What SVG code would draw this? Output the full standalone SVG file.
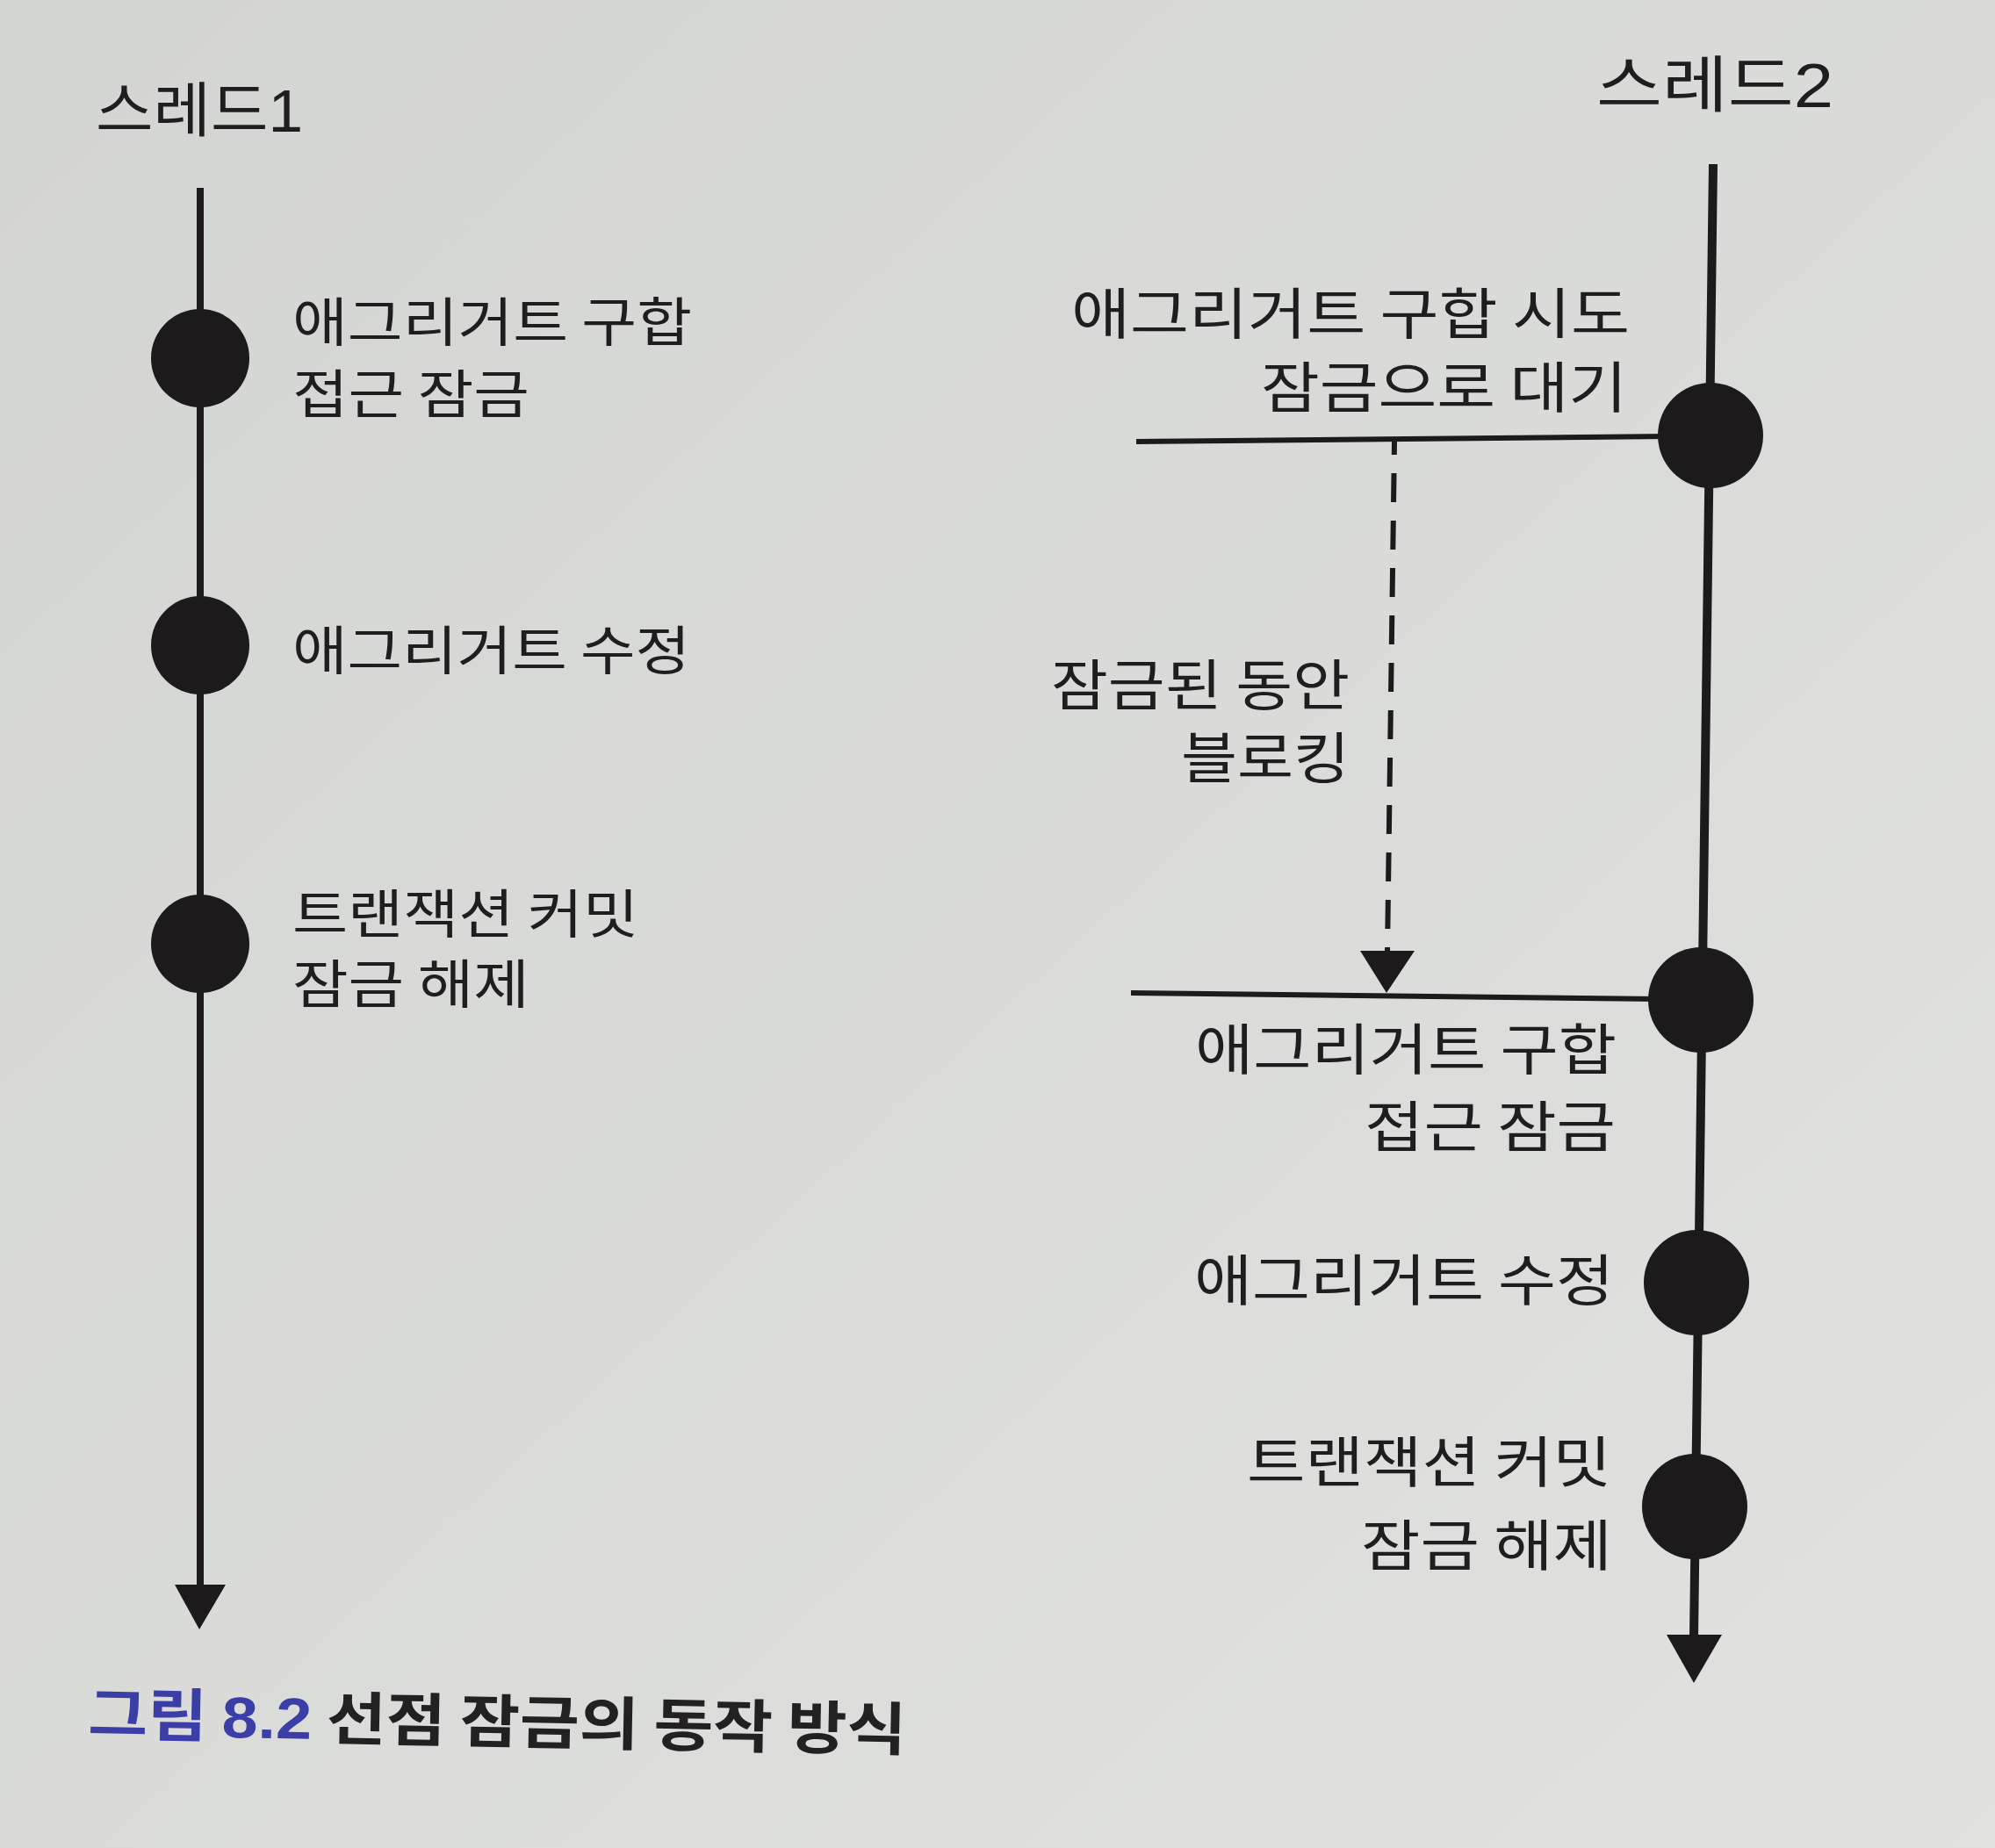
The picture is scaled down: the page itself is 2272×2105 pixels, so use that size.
<svg xmlns="http://www.w3.org/2000/svg" width="2272" height="2105" viewBox="0 0 2272 2105">
  <defs>
    <linearGradient id="paper" x1="0" y1="0" x2="1" y2="1">
      <stop offset="0" stop-color="#d3d5d3"/>
      <stop offset="1" stop-color="#e1e2e0"/>
    </linearGradient>
    <style>
      .t { font-family: "Noto Sans CJK KR", "Noto Sans", sans-serif; fill: #1f1d1d; }
      .l { font-size: 60px; }
      .r { font-size: 63px; text-anchor: end; }
      .h { font-size: 68px; }
      .num { font-family: "Liberation Sans", "Noto Sans", sans-serif; }
      .dot { fill: #1c1a1a; }
      .ln { stroke: #1c1a1a; fill: none; }
      .ah { fill: #1c1a1a; }
      .cap { font-family: "Noto Sans CJK KR", "Noto Sans", sans-serif; font-size: 66px; font-weight: bold; fill: #222020; }
      .capb { fill: #3b3ea6; }
    </style>
  </defs>
  <rect x="0" y="0" width="2272" height="2105" fill="url(#paper)"/>

  <g id="connectors">
    <line class="ln" x1="228" y1="214" x2="228" y2="1810" stroke-width="8"/>
    <polygon class="ah" points="199,1805 257,1805 227,1856"/>
    <line class="ln" x1="1951" y1="187" x2="1929" y2="1866" stroke-width="10"/>
    <polygon class="ah" points="1898,1862 1961,1862 1929,1917"/>
    <line class="ln" x1="1294" y1="503" x2="1900" y2="497" stroke-width="6"/>
    <line class="ln" x1="1288" y1="1131" x2="1890" y2="1138" stroke-width="6"/>
    <line class="ln" x1="1588" y1="503" x2="1580" y2="1085" stroke-width="6" stroke-dasharray="33 21" stroke-dashoffset="18"/>
    <polygon class="ah" points="1549,1083 1611,1083 1579,1131"/>
  </g>

  <g id="thread1-title"><text class="t h" x="109" y="150" textLength="236" lengthAdjust="spacingAndGlyphs">스레드<tspan class="num">1</tspan></text></g>
  <g id="thread2-title"><text class="t h" x="1818" y="122" style="font-size:70px" textLength="270" lengthAdjust="spacingAndGlyphs">스레드<tspan class="num">2</tspan></text></g>

  <g id="t1-lock">
    <circle class="dot" cx="228" cy="408" r="56"/>
    <text class="t l" x="333" y="389" textLength="455" lengthAdjust="spacingAndGlyphs">애그리거트 구합</text>
    <text class="t l" x="333" y="471" textLength="270" lengthAdjust="spacingAndGlyphs">접근 잠금</text>
  </g>
  <g id="t1-modify">
    <circle class="dot" cx="228" cy="735" r="56"/>
    <text class="t l" x="333" y="763" textLength="453" lengthAdjust="spacingAndGlyphs">애그리거트 수정</text>
  </g>
  <g id="t1-commit">
    <circle class="dot" cx="228" cy="1075" r="56"/>
    <text class="t l" x="333" y="1063" textLength="394" lengthAdjust="spacingAndGlyphs">트랜잭션 커밋</text>
    <text class="t l" x="333" y="1143" textLength="270" lengthAdjust="spacingAndGlyphs">잠금 해제</text>
  </g>

  <g id="t2-try">
    <circle class="dot" cx="1948" cy="496" r="60"/>
    <text class="t r" x="1856" y="380" textLength="636" lengthAdjust="spacingAndGlyphs">애그리거트 구합 시도</text>
    <text class="t r" x="1853" y="464" textLength="417" lengthAdjust="spacingAndGlyphs">잠금으로 대기</text>
  </g>
  <g id="t2-blocking">
    <text class="t r" x="1537" y="803" textLength="340" lengthAdjust="spacingAndGlyphs">잠금된 동안</text>
    <text class="t r" x="1537" y="886" textLength="192" lengthAdjust="spacingAndGlyphs">블로킹</text>
  </g>
  <g id="t2-lock">
    <circle class="dot" cx="1937" cy="1139" r="60"/>
    <text class="t r" x="1841" y="1218" textLength="480" lengthAdjust="spacingAndGlyphs">애그리거트 구합</text>
    <text class="t r" x="1840" y="1306" textLength="286" lengthAdjust="spacingAndGlyphs">접근 잠금</text>
  </g>
  <g id="t2-modify">
    <circle class="dot" cx="1932" cy="1461" r="60"/>
    <text class="t r" x="1838" y="1481" textLength="478" lengthAdjust="spacingAndGlyphs">애그리거트 수정</text>
  </g>
  <g id="t2-commit">
    <circle class="dot" cx="1930" cy="1716" r="60"/>
    <text class="t r" x="1835" y="1688" textLength="415" lengthAdjust="spacingAndGlyphs">트랜잭션 커밋</text>
    <text class="t r" x="1836" y="1783" textLength="286" lengthAdjust="spacingAndGlyphs">잠금 해제</text>
  </g>

  <g id="caption" transform="rotate(1.1 101 1976)">
    <text class="cap" x="100" y="1976" textLength="932" lengthAdjust="spacingAndGlyphs"><tspan class="capb">그림 <tspan class="num">8.2</tspan></tspan> 선점 잠금의 동작 방식</text>
  </g>
</svg>
